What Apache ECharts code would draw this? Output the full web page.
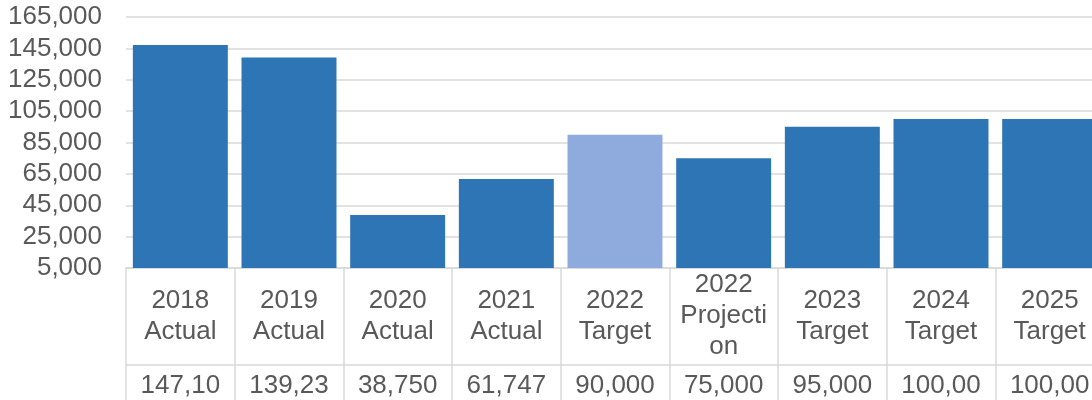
<!DOCTYPE html>
<html>
<head>
<meta charset="utf-8">
<script src="https://cdn.jsdelivr.net/npm/echarts@6/dist/echarts.min.js"></script>
<style>
  html, body { margin: 0; padding: 0; background: #fff; }
  #chart { width: 1092px; height: 400px; }
</style>
</head>
<body>
<div id="chart"></div>
<script>
const categories = ['2018 Actual', '2019 Actual', '2020 Actual', '2021 Actual', '2022 Target',
  '2022 Projection', '2023 Target', '2024 Target', '2025 Target']
const values = [147100, 139230, 38750, 61747, 90000, 75000, 95000, 100000, 100000]
const highlighted = '2022 Target'
const yMin = 5000
const yMax = 165000
const yStep = 20000

const textColor = '#595959'
const lineColor = '#d9d9d9'
const font = "'Liberation Sans', Arial, sans-serif"
const fmt = v => Number(v).toLocaleString('en-US')

const chart = echarts.init(document.getElementById('chart'))
chart.setOption({
  animation: false,
  textStyle: { fontFamily: font },
  // plot runs past the right edge, like the cropped original
  grid: {
    left: 126,
    width: 978,
    top: 17,
    bottom: 132,
    containLabel: false,
    outerBoundsMode: 'none'
  },
  xAxis: [{
    type: 'category',
    data: categories,
    axisLine: { lineStyle: { color: lineColor, width: 1.5 } },
    axisTick: { show: true, length: 97, lineStyle: { color: lineColor, width: 1.5 } },
    axisLabel: {
      interval: 0,
      fontSize: 26,
      color: textColor,
      fontFamily: font,
      lineHeight: 31,
      margin: 48,
      verticalAlign: 'middle',
      width: 94,
      overflow: 'breakAll',
      formatter: v => v.replace(' ', '\n')
    }
  }, {
    type: 'category',
    position: 'bottom',
    offset: 97,
    data: values.map(fmt),
    axisLine: { lineStyle: { color: lineColor, width: 1.5 } },
    axisTick: { show: true, length: 40, lineStyle: { color: lineColor, width: 1.5 } },
    axisLabel: {
      interval: 0,
      fontSize: 26,
      color: textColor,
      fontFamily: font,
      margin: 21,
      verticalAlign: 'middle',
      width: 88,
      overflow: 'truncate',
      ellipsis: ''
    }
  }],
  yAxis: {
    type: 'value',
    min: yMin,
    max: yMax,
    interval: yStep,
    axisLine: { show: false },
    axisTick: { show: false },
    splitLine: { lineStyle: { color: lineColor, width: 1.5 } },
    axisLabel: {
      fontSize: 26,
      color: textColor,
      fontFamily: font,
      margin: 24,
      formatter: fmt
    }
  },
  series: [{
    type: 'bar',
    xAxisIndex: 0,
    data: values,
    barCategoryGap: '12.6%',
    itemStyle: {
      color: p => categories[p.dataIndex] === highlighted ? '#8faadc' : '#2e75b6'
    }
  }]
})
</script>
</body>
</html>
